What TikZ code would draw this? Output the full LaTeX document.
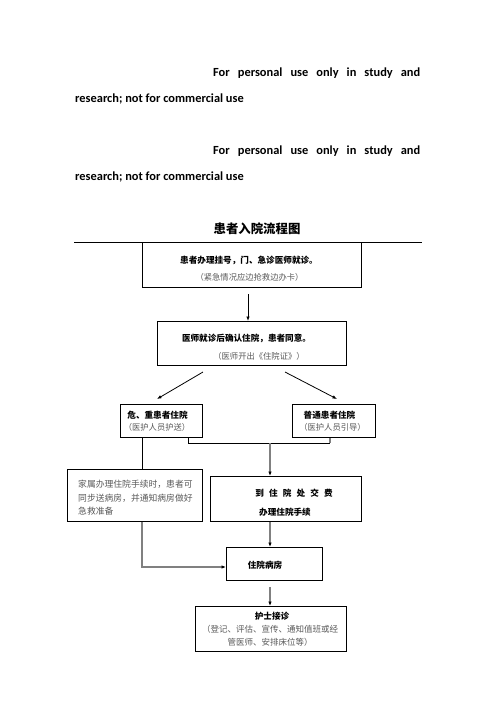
\documentclass[tikz,border=0pt]{standalone}
\usepackage{fontspec}
\setmainfont{Carlito}
\newfontfamily\cjk{Noto Sans CJK SC}
\usetikzlibrary{arrows.meta}
\begin{document}
\begin{tikzpicture}[x=1pt,y=-1pt,
  box/.style={draw=black,line width=0.8pt,anchor=north west,inner sep=0},
  bt/.style={font=\cjk\bfseries\fontsize{8.6}{10}\selectfont,inner sep=0},
  gt/.style={font=\cjk\fontsize{8.3}{10}\selectfont,text=black!65,inner sep=0},
  eng/.style={font=\bfseries\fontsize{12.4}{14}\selectfont,inner sep=0},
  ln/.style={draw=black,line width=0.8pt},
  arr/.style={ln,-{Latex[length=4.5pt,width=3.5pt]}},
  gl/.style={draw=black!50,line width=1.3pt},
  garr/.style={gl,-{Latex[length=4.5pt,width=3.5pt,color=black]}}]
\fill[white] (0,0) rectangle (496,702);
\useasboundingbox (0,0) rectangle (496,702);

% English header
\node[eng,anchor=west] (e1) at (213,73) {\makebox[207pt][s]{For personal use only in study and}};
\node[eng,anchor=west] (e2) at (75,99) {research; not for commercial use};
\node[eng,anchor=west] (e3) at (213,151) {\makebox[207pt][s]{For personal use only in study and}};
\node[eng,anchor=west] (e4) at (75,177) {research; not for commercial use};

% title
\node[font=\cjk\bfseries\fontsize{12.4}{14}\selectfont,inner sep=0] (title) at (257,229) {患者入院流程图};

% header rule
\coordinate (h1) at (74,242);
\coordinate (h2) at (422,242);
\draw[ln] (h1) -- (h2);

% boxes
\node[box,minimum width=219pt,minimum height=45pt] (b1) at (142,242) {};
\node[box,minimum width=189pt,minimum height=44pt] (b2) at (157,321) {};
\node[box,minimum width=82pt,minimum height=33pt] (b3) at (120,404) {};
\node[box,minimum width=83pt,minimum height=33pt] (b4) at (292,404) {};
\node[box,minimum width=135pt,minimum height=52pt] (b5) at (67,469) {};
\node[box,minimum width=151pt,minimum height=45pt] (b6) at (210,476) {};
\node[box,minimum width=96pt,minimum height=33pt] (b7) at (226,547) {};
\node[box,minimum width=151pt,minimum height=45pt] (b8) at (195,606) {};

% texts
\node[bt] (t1a) at (249,260) {患者办理挂号，门、急诊医师就诊。};
\node[gt] (t1b) at (249.5,277) {（紧急情况应边抢救边办卡）};
\node[bt] (t2a) at (246.5,338) {医师就诊后确认住院，患者同意。};
\node[gt] (t2b) at (259,356) {（医师开出《住院证》）};
\node[bt] (t3a) at (157.5,415) {危、重患者住院};
\node[gt] (t3b) at (157,427) {（医护人员护送）};
\node[bt] (t4a) at (329.5,415) {普通患者住院};
\node[gt] (t4b) at (332.5,427) {（医护人员引导）};
\node[gt,anchor=west,font=\cjk\fontsize{8.8}{10}\selectfont] (t5a) at (78,484) {家属办理住院手续时，患者可};
\node[gt,anchor=west,font=\cjk\fontsize{8.8}{10}\selectfont] (t5b) at (78,498) {同步送病房，并通知病房做好};
\node[gt,anchor=west,font=\cjk\fontsize{8.8}{10}\selectfont] (t5c) at (78,511) {急救准备};
\node[bt] (t6a) at (294,493) {到\hspace{0.6em}住\hspace{0.6em}院\hspace{0.6em}处\hspace{0.6em}交\hspace{0.6em}费};
\node[bt] (t6b) at (285,512) {办理住院手续};
\node[bt] (t7) at (265,565) {住院病房};
\node[bt] (t8a) at (272,616) {护士接诊};
\node[gt,font=\cjk\fontsize{8.5}{10}\selectfont] (t8b) at (270,629) {（登记、评估、宣传、通知值班或经};
\node[gt,font=\cjk\fontsize{8.5}{10}\selectfont] (t8c) at (270,642) {管医师、安排床位等）};

% connectors
\coordinate (c1) at (248,294);
\draw[arr] (c1) -- (c1 |- b2.north);
\coordinate (d1s) at (203,372);
\coordinate (d1e) at (157,399);
\draw[arr] (d1s) -- (d1e);
\coordinate (d2s) at (285,372);
\coordinate (d2e) at (337,399);
\draw[arr] (d2s) -- (d2e);

\coordinate (p1) at (142,450);
\draw[ln] (p1 |- b3.south) -- (p1 |- b5.north);

\coordinate (j1) at (188,443);
\coordinate (j2) at (330,443);
\coordinate (jm) at (270,443);
\draw[ln] (j1 |- b3.south) -- (j1) -- (j2);
\draw[gl] (j2) -- (j2 |- b4.south);
\draw[garr] (jm) -- (jm |- b6.north);
\draw[garr] (jm |- b6.south) -- (jm |- b7.north);

\coordinate (k) at (142,567);
\draw[garr] (k |- b5.south) -- (k) -- (k -| b7.west);

\coordinate (m) at (270,587);
\draw[garr] (m) -- (m |- b8.north);
\end{tikzpicture}
\end{document}
